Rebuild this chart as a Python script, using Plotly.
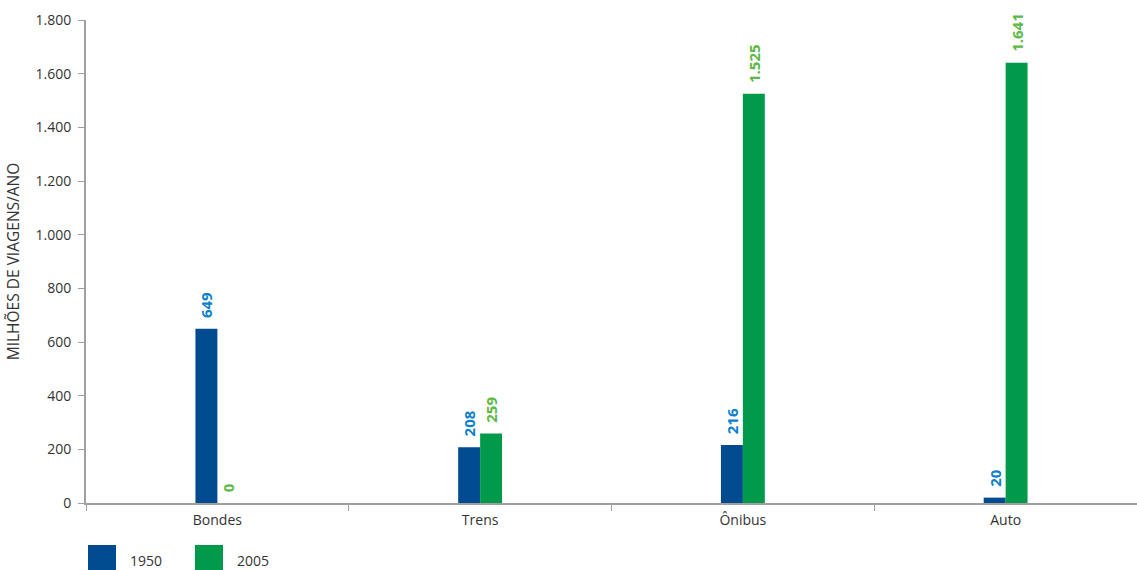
import plotly.graph_objects as go

# Viagens por modo de transporte (milhões de viagens por ano)
categories = ["Bondes", "Trens", "Ônibus", "Auto"]
values_1950 = [649, 208, 216, 20]
values_2005 = [0, 259, 1525, 1641]
series_names = ["1950", "2005"]
y_ticks = [0, 200, 400, 600, 800, 1000, 1200, 1400, 1600, 1800]

bar_colors = ["#004a8f", "#009a4a"]
label_colors = ["#0a7fcc", "#5cb946"]
legend_colors = ["#004a8f", "#009a4a"]

FONT = "Open Sans, Noto Sans, sans-serif"
AXIS_GREY = "#a0a0a0"

fig = go.Figure()
for name, vals, bc, lc in zip(series_names, [values_1950, values_2005], bar_colors, label_colors):
    fig.add_trace(go.Bar(
        x=categories,
        y=vals,
        name=name,
        marker=dict(color=bc, line=dict(width=0)),
        text=vals,
        texttemplate="\u00a0\u00a0%{y:,}",
        textposition="outside",
        textangle=-90,
        outsidetextfont=dict(family=FONT, size=15, color=lc, weight="bold"),
        cliponaxis=False,
        showlegend=False,
    ))

fig.update_layout(
    width=1137,
    height=570,
    margin=dict(l=86, r=0, t=20, b=67),
    paper_bgcolor="white",
    plot_bgcolor="white",
    barmode="group",
    bargap=0.833,
    bargroupgap=0,
    separators=",.",
    uniformtext=dict(minsize=15, mode="show"),
    font=dict(family=FONT, size=14, color="#333333"),
    xaxis=dict(
        showline=True,
        linecolor=AXIS_GREY,
        linewidth=2,
        ticks="outside",
        tickson="boundaries",
        ticklen=6,
        tickcolor=AXIS_GREY,
        ticklabelstandoff=3,
        tickfont=dict(size=14, color="#333333"),
        showgrid=False,
        zeroline=False,
    ),
    yaxis=dict(
        range=[0, 1800],
        tickvals=y_ticks,
        tickformat=",d",
        showline=True,
        linecolor=AXIS_GREY,
        linewidth=2,
        ticks="outside",
        ticklen=6,
        tickcolor=AXIS_GREY,
        ticklabelstandoff=4,
        tickfont=dict(size=14, color="#333333"),
        showgrid=False,
        zeroline=False,
        title=dict(text="MILHÕES DE VIAGENS/ANO", font=dict(size=15.5, color="#333333"), standoff=12),
    ),
)

# Legenda com quadrados grandes abaixo do eixo
legend_x = [88, 195]
for name, color, x0 in zip(series_names, legend_colors, legend_x):
    fig.add_shape(
        type="rect", xref="paper", yref="paper",
        x0=(x0 - 86) / 1051, x1=(x0 + 28 - 86) / 1051,
        y0=(503 - 571) / 483, y1=(503 - 545) / 483,
        fillcolor=color, line=dict(width=0),
    )
    fig.add_annotation(
        xref="paper", yref="paper",
        x=(x0 + 40 - 86) / 1051, y=(503 - 560) / 483,
        text=name, showarrow=False, xanchor="left", yanchor="middle",
        font=dict(size=14, color="#333333"),
    )

fig.write_html("out.html")
